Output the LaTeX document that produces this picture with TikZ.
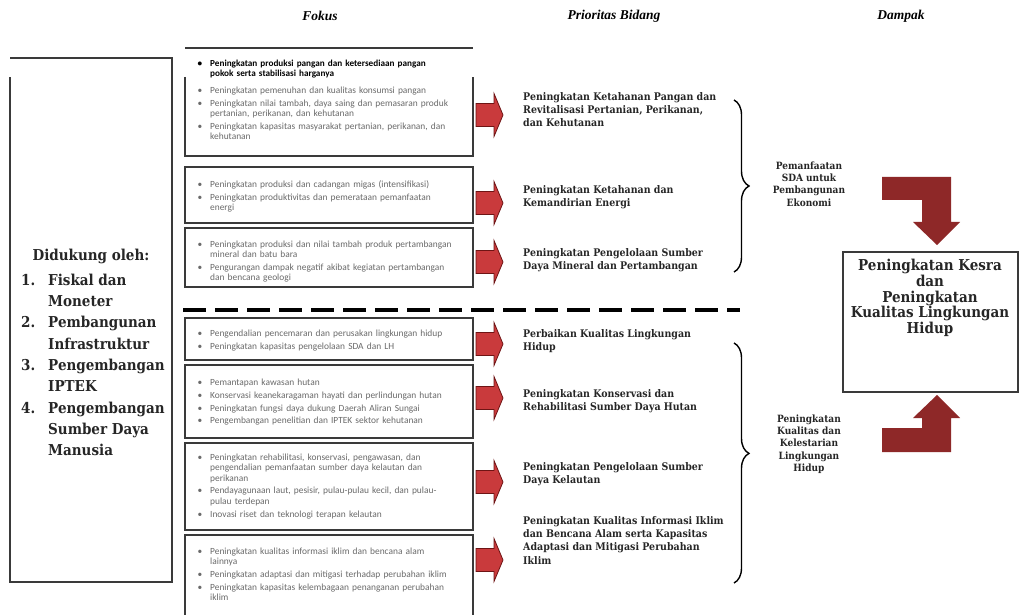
\documentclass[tikz,border=0pt]{standalone}
\usepackage{fontspec}
\setmainfont{Liberation Serif}
\newfontfamily\labfont[FakeStretch=0.9]{DejaVu Serif}
\newfontfamily\fokfont{Carlito}
\usetikzlibrary{decorations.pathreplacing}

\definecolor{arrred}{HTML}{C93A3C}
\definecolor{arredge}{HTML}{6E1414}
\definecolor{bentred}{HTML}{8E2828}
\definecolor{fokgray}{HTML}{6A6A6A}
\definecolor{boxline}{HTML}{3A3A3A}
\definecolor{labtext}{HTML}{262626}

% first line of a bulleted item in a focus box
\newcommand\fk[1]{\par\vspace{2.5pt}\noindent\rule{0pt}{7pt}%
  \makebox[13pt][l]{\hspace{0.5pt}\textbullet}#1}
% continuation line of the same item
\newcommand\fc[1]{\par\noindent\rule{0pt}{7pt}\hspace*{13pt}#1}

\tikzset{
  hdr/.style={inner sep=0pt, font=\bfseries\itshape\fontsize{13.5}{15}\selectfont},
  fbox/.style={draw=boxline, line width=1.3pt},
  lbox/.style={draw=boxline, line width=1.6pt},
  fokus/.style={anchor=north west, inner sep=0pt, text width=280pt, align=left,
    text=fokgray, font=\fokfont\fontsize{9.4}{10.3}\selectfont,
    execute at begin node={\setlength{\parskip}{0pt}}},
  fokdark/.style={fokus, text=black, font=\fokfont\bfseries\fontsize{9.2}{10}\selectfont},
  prio/.style={anchor=north west, inner sep=0pt, align=left, text=labtext,
    font=\labfont\bfseries\fontsize{10.5}{13.3}\selectfont},
  sup/.style={inner sep=0pt, text=labtext, font=\labfont\bfseries\fontsize{15}{21.3}\selectfont},
  side/.style={inner sep=0pt, align=center, text=labtext,
    font=\labfont\bfseries\fontsize{10}{12.3}\selectfont},
  mainlab/.style={inner sep=0pt, align=center, text=labtext,
    font=\labfont\bfseries\fontsize{15}{15.6}\selectfont},
  bracket/.style={draw=black, line width=1.4pt, decorate},
  redarrow/.pic={
    \filldraw[fill=arrred, draw=arredge, line width=0.8pt, line join=miter]
      (0,-11.5) -- (18,-11.5) -- (18,-21.5) -- (27,0) -- (18,21.5) -- (18,11.5)
      -- (0,11.5) -- cycle;}
}

\begin{document}
\begin{tikzpicture}[x=1pt, y=-1pt]
\fill[white] (0,0) rectangle (1021,615);
\useasboundingbox (0,0) rectangle (1021,615);

% column headings
\node[hdr] (hfokus) at (320,16) {Fokus};
\node[hdr] (hprio) at (614,16) {Prioritas Bidang};
\node[hdr] (hdampak) at (901,16) {Dampak};

% supporting factors
\draw[lbox] (10,58) -- (172,58) -- (172,582) -- (10,582) -- (10,77);
\node[sup, anchor=base] (dtitle) at (91,260) {Didukung oleh:};
\node[sup, anchor=north west, align=left] (dlist) at (21,273)
  {\rule{0pt}{12pt}\makebox[27pt][l]{1.}Fiskal dan\\
   \hspace*{27pt}Moneter\\
   \makebox[27pt][l]{2.}Pembangunan\\
   \hspace*{27pt}Infrastruktur\\
   \makebox[27pt][l]{3.}Pengembangan\\
   \hspace*{27pt}IPTEK\\
   \makebox[27pt][l]{4.}Pengembangan\\
   \hspace*{27pt}Sumber Daya\\
   \hspace*{27pt}Manusia};

% focus boxes
\draw[fbox] (185,48) -- (473,48);
\draw[fbox] (185,77) -- (185,156) -- (473,156) -- (473,77);
\draw[fbox] (185,167) rectangle (473,223);
\draw[fbox] (185,228) rectangle (473,287);
\draw[fbox] (185,318) rectangle (473,360);
\draw[fbox] (185,365) rectangle (473,438);
\draw[fbox] (185,443) rectangle (473,530);
\draw[fbox] (185,615) -- (185,535) -- (473,535) -- (473,615);

\node[fokdark] (f1a) at (197,54)
  {\fk{Peningkatan produksi pangan dan ketersediaan pangan}
   \fc{pokok serta stabilisasi harganya}};
\node[fokus] (f1) at (197,80.5)
  {\fk{Peningkatan pemenuhan dan kualitas konsumsi pangan}
   \fk{Peningkatan nilai tambah, daya saing dan pemasaran produk}
   \fc{pertanian, perikanan, dan kehutanan}
   \fk{Peningkatan kapasitas masyarakat pertanian, perikanan, dan}
   \fc{kehutanan}};
\node[fokus] (f2) at (197,174.5)
  {\fk{Peningkatan produksi dan cadangan migas (intensifikasi)}
   \fk{Peningkatan produktivitas dan pemerataan pemanfaatan}
   \fc{energi}};
\node[fokus] (f3) at (197,234.5)
  {\fk{Peningkatan produksi dan nilai tambah produk pertambangan}
   \fc{mineral dan batu bara}
   \fk{Pengurangan dampak negatif akibat kegiatan pertambangan}
   \fc{dan bencana geologi}};
\node[fokus] (f4) at (197,323.5)
  {\fk{Pengendalian pencemaran dan perusakan lingkungan hidup}
   \fk{Peningkatan kapasitas pengelolaan SDA dan LH}};
\node[fokus] (f5) at (197,372.5)
  {\fk{Pemantapan kawasan hutan}
   \fk{Konservasi keanekaragaman hayati dan perlindungan hutan}
   \fk{Peningkatan fungsi daya dukung Daerah Aliran Sungai}
   \fk{Pengembangan penelitian dan IPTEK sektor kehutanan}};
\node[fokus] (f6) at (197,447.5)
  {\fk{Peningkatan rehabilitasi, konservasi, pengawasan, dan}
   \fc{pengendalian pemanfaatan sumber daya kelautan dan}
   \fc{perikanan}
   \fk{Pendayagunaan laut, pesisir, pulau-pulau kecil, dan pulau-}
   \fc{pulau terdepan}
   \fk{Inovasi riset dan teknologi terapan kelautan}};
\node[fokus] (f7) at (197,541.5)
  {\fk{Peningkatan kualitas informasi iklim dan bencana alam}
   \fc{lainnya}
   \fk{Peningkatan adaptasi dan mitigasi terhadap perubahan iklim}
   \fk{Peningkatan kapasitas kelembagaan penanganan perubahan}
   \fc{iklim}};

% separator between the two groups
\draw[line width=3.5pt, dash pattern=on 23pt off 9pt] (183,310) -- (740,310);

% arrows from focus to priority
\foreach \yy in {115,203,262,344,398,482,560}
  \pic at (476,\yy) {redarrow};

% priorities
\node[prio] (p1) at (523,91) {\rule{0pt}{9pt}Peningkatan Ketahanan Pangan dan\\Revitalisasi Pertanian, Perikanan,\\dan Kehutanan};
\node[prio] (p2) at (523,184) {\rule{0pt}{9pt}Peningkatan Ketahanan dan\\Kemandirian Energi};
\node[prio] (p3) at (523,247) {\rule{0pt}{9pt}Peningkatan Pengelolaan Sumber\\Daya Mineral dan Pertambangan};
\node[prio] (p4) at (523,328) {\rule{0pt}{9pt}Perbaikan Kualitas Lingkungan\\Hidup};
\node[prio] (p5) at (523,388) {\rule{0pt}{9pt}Peningkatan Konservasi dan\\Rehabilitasi Sumber Daya Hutan};
\node[prio] (p6) at (523,461) {\rule{0pt}{9pt}Peningkatan Pengelolaan Sumber\\Daya Kelautan};
\node[prio] (p7) at (523,515) {\rule{0pt}{9pt}Peningkatan Kualitas Informasi Iklim\\dan Bencana Alam serta Kapasitas\\Adaptasi dan Mitigasi Perubahan\\Iklim};

% braces grouping the priorities
\draw[bracket, decoration={brace, amplitude=15pt}] (734,100) -- (734,272);
\draw[bracket, decoration={brace, amplitude=15pt, aspect=0.46}] (734,343) -- (734,583);

% impact labels
\node[side] (s1) at (809,184) {Pemanfaatan\\SDA untuk\\Pembangunan\\Ekonomi};
\node[side] (s2) at (809,444) {Peningkatan\\Kualitas dan\\Kelestarian\\Lingkungan\\Hidup};

% bent arrows into the impact box
\fill[bentred] (882,177) -- (951,177) -- (951,222) -- (960,222) -- (937,245)
  -- (913,222) -- (922,222) -- (922,200) -- (882,200) -- cycle;
\fill[bentred] (882,452) -- (951,452) -- (951,418) -- (960,418) -- (937,395)
  -- (913,418) -- (922,418) -- (922,428) -- (882,428) -- cycle;

% impact box
\draw[fbox] (843,252) rectangle (1018,392);
\node[mainlab] (kesra) at (930,298)
  {Peningkatan Kesra\\dan\\Peningkatan\\Kualitas Lingkungan\\Hidup};
\end{tikzpicture}
\end{document}
